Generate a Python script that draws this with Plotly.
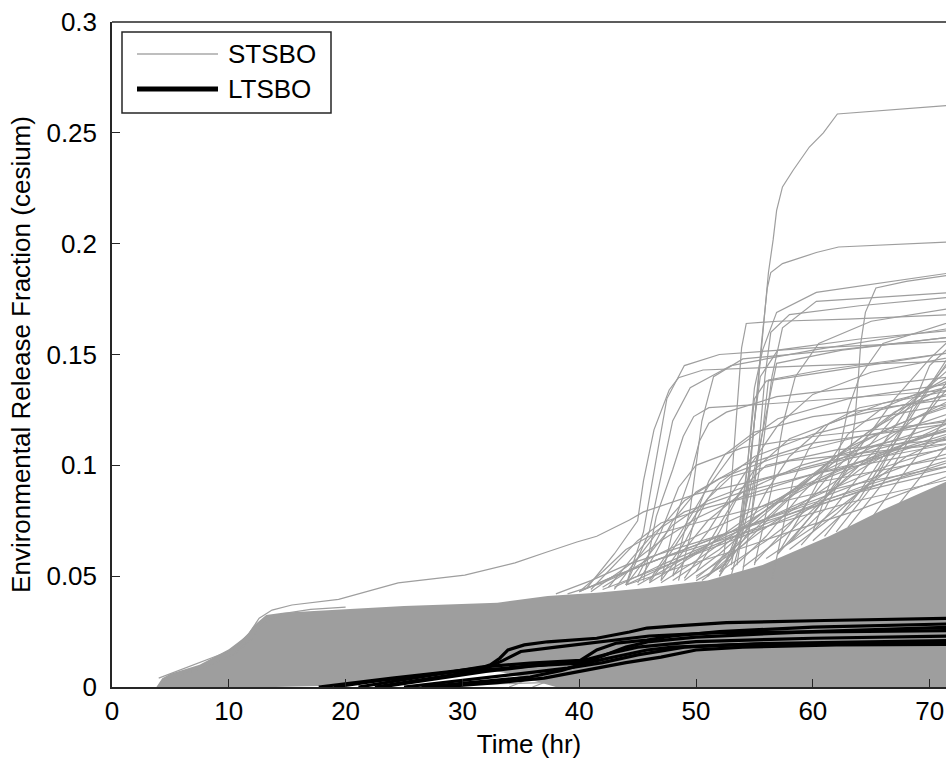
import plotly.graph_objects as go

# ---------------- data ----------------
X_TICKS = [0, 10, 20, 30, 40, 50, 60, 70]
Y_TICKS = [0, 0.05, 0.1, 0.15, 0.2, 0.25, 0.3]
Y_TICK_TEXT = ["0", "0.05", "0.1", "0.15", "0.2", "0.25", "0.3"]
SERIES_NAMES = ["STSBO", "LTSBO"]

# dense STSBO bundle envelope (upper edge, then lower edge)
BAND_UPPER_T = [3.8, 4.3, 5, 7.5, 10, 11.5, 12.2, 13.2, 14.6, 19.4, 25, 33, 37.3, 41.5, 45.8, 51, 55.7, 61.4, 66, 72]
BAND_UPPER_V = [0, 0.004, 0.006, 0.010, 0.017, 0.023, 0.028, 0.0325, 0.0335, 0.035, 0.0365, 0.038, 0.041, 0.0425, 0.0447, 0.048, 0.055, 0.068, 0.080, 0.094]
BAND_LOWER_T = [72, 38, 36, 34, 32, 29, 26, 22, 17.7, 14, 3.8]
BAND_LOWER_V = [0, 0, 0.003, 0.006, 0.008, 0.007, 0.005, 0.003, 0.0005, 0, 0]

# individual STSBO runs that stand out of the bundle: (hours, fraction)
STSBO_CURVES = [
    ([4, 7.5, 10.3, 11.7, 12.6, 13.7, 15.4, 19.4, 24.5, 30.2, 34.5, 37.3, 39.8, 41.5, 44.3, 45.5, 50, 55, 60, 66, 72],
     [0.004, 0.011, 0.0167, 0.024, 0.031, 0.0347, 0.037, 0.0395, 0.047, 0.0505, 0.056, 0.061, 0.0654, 0.068, 0.0753, 0.079, 0.087, 0.093, 0.10, 0.108, 0.116]),
    ([4.5, 8, 10.5, 12, 13, 14.5, 17, 20],
     [0.003, 0.009, 0.015, 0.022, 0.029, 0.033, 0.035, 0.036]),
    ([50, 52.5, 53.8, 54.6, 55.2, 55.7, 56.2, 56.6, 56.9, 57.4, 58.3, 59.7, 60.9, 62.1, 72],
     [0.048, 0.055, 0.07, 0.10, 0.13, 0.16, 0.187, 0.2017, 0.215, 0.2256, 0.233, 0.2436, 0.25, 0.2585, 0.2625]),
    ([50.5, 53, 54.2, 55, 55.6, 56.1, 56.4, 57.4, 60.3, 62.2, 72],
     [0.048, 0.058, 0.08, 0.12, 0.155, 0.18, 0.187, 0.191, 0.196, 0.1985, 0.2008]),
    ([51, 53.5, 54.4, 55, 55.7, 56.9, 60.3, 72],
     [0.05, 0.065, 0.10, 0.135, 0.152, 0.169, 0.178, 0.187]),
    ([52, 54.5, 55.5, 56.5, 57.4, 60.3, 72],
     [0.05, 0.07, 0.10, 0.14, 0.162, 0.174, 0.178]),
    ([51, 52.4, 53, 53.4, 53.9, 54.3, 57, 63, 72],
     [0.05, 0.06, 0.09, 0.12, 0.153, 0.164, 0.165, 0.166, 0.168]),
    ([58, 61, 63, 63.6, 63.9, 64.1, 64.5, 65.4, 68, 72],
     [0.065, 0.08, 0.10, 0.12, 0.14, 0.155, 0.169, 0.18, 0.183, 0.186]),
    ([40.7, 43, 45, 45.5, 46.4, 47.7, 48.5, 50.6, 60, 72],
     [0.045, 0.06, 0.075, 0.093, 0.116, 0.134, 0.1395, 0.143, 0.145, 0.147]),
    ([45.5, 46.6, 48, 48.9, 49.8, 51.1, 56.9, 72],
     [0.048, 0.077, 0.098, 0.113, 0.122, 0.126, 0.128, 0.134]),
    ([47, 48.3, 49.5, 50.3, 51.1, 52.6, 56.9, 72],
     [0.048, 0.077, 0.095, 0.111, 0.119, 0.124, 0.131, 0.14]),
    ([48.5, 50, 51.1, 52.5, 55, 60, 72],
     [0.048, 0.078, 0.093, 0.105, 0.115, 0.122, 0.13]),
    ([56.5, 57, 57.4, 58.3, 59.7, 61.4, 64, 72],
     [0.048, 0.06, 0.071, 0.093, 0.108, 0.119, 0.126, 0.134]),
    ([52, 54, 55.5, 56.9, 62.5, 72],
     [0.05, 0.075, 0.11, 0.146, 0.152, 0.158]),
    ([53, 54.5, 55.7, 56.2, 60.8, 72],
     [0.05, 0.08, 0.115, 0.1385, 0.143, 0.151]),
    ([44, 46, 47.2, 48, 49.5, 53, 60, 72],
     [0.046, 0.07, 0.10, 0.12, 0.135, 0.145, 0.152, 0.162]),
    ([55, 56.5, 57.5, 58.5, 60.5, 65, 72],
     [0.055, 0.09, 0.12, 0.14, 0.155, 0.165, 0.171]),
    ([60, 62, 63, 64, 66, 72],
     [0.07, 0.10, 0.125, 0.14, 0.155, 0.165]),
    ([44, 45.5, 46.5, 47.5, 49, 52, 60, 72],
     [0.046, 0.07, 0.10, 0.13, 0.145, 0.150, 0.153, 0.156]),
    ([48, 49.5, 50.5, 51.5, 54, 62, 72],
     [0.05, 0.08, 0.12, 0.14, 0.148, 0.152, 0.158]),
    ([53, 54, 54.6, 55, 56, 62, 72],
     [0.055, 0.08, 0.11, 0.13, 0.138, 0.143, 0.151]),
    ([53.5, 54.5, 55, 55.5, 57, 64, 72],
     [0.055, 0.09, 0.12, 0.14, 0.152, 0.157, 0.161]),
    ([54, 54.8, 55.4, 55.9, 56.4, 58, 64, 72],
     [0.052, 0.08, 0.11, 0.14, 0.16, 0.168, 0.172, 0.176]),
    ([42, 46, 50, 55, 60, 66, 72],
     [0.045, 0.058, 0.068, 0.080, 0.092, 0.104, 0.114]),
    ([44, 48, 52, 58, 64, 72],
     [0.046, 0.056, 0.065, 0.078, 0.090, 0.103]),
    ([46, 50, 54, 58, 63, 72],
     [0.047, 0.060, 0.075, 0.088, 0.100, 0.115]),
    ([48, 52, 56, 60, 65, 72],
     [0.048, 0.062, 0.080, 0.095, 0.108, 0.120]),
    ([50, 54, 58, 62, 67, 72],
     [0.049, 0.066, 0.086, 0.104, 0.118, 0.128]),
    ([52, 56, 60, 64, 68, 72],
     [0.052, 0.066, 0.082, 0.098, 0.110, 0.120]),
    ([54, 58, 62, 66, 69, 72],
     [0.054, 0.070, 0.090, 0.110, 0.122, 0.130]),
    ([56, 60, 64, 68, 72],
     [0.058, 0.072, 0.088, 0.104, 0.114]),
    ([58, 62, 66, 69, 72],
     [0.062, 0.078, 0.098, 0.118, 0.138]),
    ([60, 64, 67, 70, 72],
     [0.066, 0.085, 0.110, 0.135, 0.150]),
    ([62, 65, 68, 70, 72],
     [0.07, 0.09, 0.12, 0.145, 0.155]),
    ([45, 47, 48.5, 50, 54, 60, 72],
     [0.05, 0.07, 0.09, 0.10, 0.108, 0.113, 0.12]),
    ([47, 49, 51, 53, 58, 72],
     [0.05, 0.065, 0.085, 0.095, 0.102, 0.11]),
    ([50, 52, 54, 56, 62, 72],
     [0.052, 0.07, 0.09, 0.10, 0.107, 0.112]),
    ([38, 41, 44, 48, 53, 58, 64, 72],
     [0.042, 0.048, 0.055, 0.062, 0.070, 0.078, 0.088, 0.098]),
    ([40, 43, 47, 51, 56, 62, 68, 72],
     [0.043, 0.050, 0.058, 0.066, 0.076, 0.088, 0.100, 0.106]),
    ([42, 46, 50, 55, 60, 66, 72],
     [0.044, 0.052, 0.060, 0.070, 0.081, 0.092, 0.102]),
    ([43, 47, 51, 56, 61, 66, 72],
     [0.045, 0.055, 0.064, 0.076, 0.088, 0.099, 0.109]),
    ([45, 49, 53, 57, 62, 67, 72],
     [0.046, 0.058, 0.070, 0.083, 0.097, 0.108, 0.117]),
    ([47, 50, 54, 58, 62, 67, 72],
     [0.047, 0.057, 0.072, 0.088, 0.102, 0.115, 0.124]),
    ([49, 52, 55, 59, 63, 68, 72],
     [0.048, 0.060, 0.074, 0.092, 0.108, 0.120, 0.127]),
    ([51, 54, 57, 61, 65, 69, 72],
     [0.05, 0.064, 0.080, 0.100, 0.116, 0.128, 0.133]),
    ([53, 56, 59, 63, 67, 72],
     [0.053, 0.068, 0.087, 0.108, 0.124, 0.137]),
    ([55, 58, 61, 65, 69, 72],
     [0.056, 0.073, 0.093, 0.115, 0.132, 0.141]),
    ([57, 60, 63, 67, 72],
     [0.06, 0.078, 0.098, 0.122, 0.145]),
    ([59, 62, 65, 68, 72],
     [0.064, 0.082, 0.102, 0.125, 0.148]),
    ([61, 64, 67, 72],
     [0.068, 0.088, 0.112, 0.152]),
    ([63, 66, 69, 72],
     [0.072, 0.092, 0.118, 0.142]),
    ([65, 68, 72],
     [0.076, 0.098, 0.125]),
    ([67, 70, 72],
     [0.08, 0.10, 0.112]),
    ([41, 44, 47, 50, 54, 60, 66, 72],
     [0.043, 0.054, 0.066, 0.076, 0.086, 0.096, 0.104, 0.11]),
    ([43, 45, 47, 49, 52, 57, 64, 72],
     [0.044, 0.058, 0.072, 0.084, 0.094, 0.104, 0.113, 0.121]),
    ([46, 48, 50, 52, 55, 60, 66, 72],
     [0.047, 0.062, 0.078, 0.092, 0.104, 0.114, 0.122, 0.128]),
    ([49, 51, 53, 55, 58, 63, 72],
     [0.049, 0.064, 0.082, 0.098, 0.112, 0.122, 0.132]),
    ([52, 54, 56, 58, 61, 66, 72],
     [0.052, 0.068, 0.088, 0.104, 0.118, 0.128, 0.136]),
    ([57, 59, 61, 63, 66, 72],
     [0.06, 0.078, 0.098, 0.114, 0.126, 0.139]),
    ([40, 43, 47, 52, 57, 63, 72],
     [0.043, 0.05, 0.058, 0.066, 0.074, 0.083, 0.094]),
    ([44, 48, 53, 58, 64, 72],
     [0.046, 0.053, 0.061, 0.070, 0.080, 0.096]),
    ([58, 61, 64, 67, 70, 72],
     [0.065, 0.085, 0.108, 0.13, 0.148, 0.158]),
    ([48, 51, 54, 57, 60, 65, 72],
     [0.05, 0.07, 0.095, 0.118, 0.132, 0.142, 0.149]),
    ([46, 48.5, 51, 53.5, 57, 63, 72],
     [0.048, 0.068, 0.09, 0.108, 0.121, 0.13, 0.137]),
    ([40, 42, 44, 46, 50, 56, 64, 72],
     [0.043, 0.052, 0.062, 0.068, 0.074, 0.082, 0.092, 0.10]),
    ([41, 43, 45, 47, 51, 57, 65, 72],
     [0.044, 0.055, 0.066, 0.074, 0.081, 0.089, 0.097, 0.104]),
    ([42.5, 44.5, 46.5, 49, 54, 60, 72],
     [0.045, 0.058, 0.07, 0.079, 0.088, 0.096, 0.108]),
    ([44, 46, 48, 51, 56, 63, 72],
     [0.046, 0.06, 0.073, 0.084, 0.094, 0.103, 0.112]),
    ([45, 46.5, 48, 50, 54, 60, 72],
     [0.047, 0.06, 0.075, 0.088, 0.10, 0.11, 0.119]),
    ([47, 49, 51, 54, 59, 66, 72],
     [0.048, 0.062, 0.075, 0.088, 0.10, 0.11, 0.116]),
    ([39, 42, 45, 49, 54, 60, 66, 72],
     [0.042, 0.047, 0.054, 0.062, 0.072, 0.083, 0.092, 0.10]),
    ([50, 53, 56, 60, 64, 68, 72],
     [0.05, 0.06, 0.072, 0.086, 0.10, 0.11, 0.118]),
    ([26, 28, 30, 34, 37, 40],
     [0, 0.0008, 0.001, 0.0015, 0.002, 0.004]),
    ([34, 35, 36, 38, 40],
     [0, 0.002, 0.005, 0.007, 0.009]),
    ([36, 37.5, 39, 41],
     [0, 0.003, 0.006, 0.008]),
]

# LTSBO runs: (hours, fraction)
LTSBO_CURVES = [
    ([17.7, 20, 24, 28.8, 31.5, 32.4, 33.2, 33.9, 35.3, 37.3, 41.5, 44.3, 45.8, 48, 52.6, 61, 72],
     [0, 0.0015, 0.004, 0.0068, 0.0085, 0.010, 0.013, 0.0167, 0.019, 0.0204, 0.022, 0.0248, 0.0266, 0.0275, 0.029, 0.030, 0.031]),
    ([21.1, 24, 27.3, 31.6, 35.8, 40.1, 41.5, 43.2, 45.8, 48, 52, 60, 72],
     [0, 0.0025, 0.0054, 0.009, 0.0108, 0.012, 0.0167, 0.0198, 0.0212, 0.023, 0.025, 0.027, 0.0285]),
    ([22.5, 27.3, 31.6, 35.8, 40.1, 42, 44, 46, 50, 60, 72],
     [0, 0.004, 0.0075, 0.0095, 0.0108, 0.014, 0.018, 0.0205, 0.0225, 0.025, 0.027]),
    ([19, 23, 28, 32, 33.5, 35, 38, 42, 46, 52, 72],
     [0, 0.003, 0.006, 0.0085, 0.012, 0.016, 0.018, 0.0205, 0.023, 0.0245, 0.0255]),
    ([23, 28, 32, 36, 40, 42.5, 45, 50, 60, 72],
     [0, 0.004, 0.007, 0.0095, 0.0115, 0.015, 0.018, 0.0205, 0.022, 0.023]),
    ([25, 30, 35, 39, 42, 45, 49, 55, 72],
     [0, 0.003, 0.006, 0.0085, 0.011, 0.0145, 0.018, 0.0195, 0.021]),
    ([26.5, 30, 33, 35.8, 38.5, 40.7, 44.3, 45.8, 48, 53, 60, 72],
     [0, 0.0018, 0.003, 0.0045, 0.0075, 0.011, 0.015, 0.0167, 0.018, 0.019, 0.0195, 0.020]),
    ([28, 33, 37, 40, 44, 47, 50, 54, 62, 72],
     [0, 0.002, 0.004, 0.007, 0.011, 0.0135, 0.0167, 0.018, 0.019, 0.0192]),
]

GRAY = "#9e9e9e"
BLACK = "#000000"
AXIS = "#262626"
FONT = "Liberation Sans, Arial, sans-serif"
FS = 26
X_MAX = 71.4

fig = go.Figure()

# dense bundle
fig.add_trace(go.Scatter(
    x=BAND_UPPER_T + BAND_LOWER_T, y=BAND_UPPER_V + BAND_LOWER_V,
    mode="lines", fill="toself", fillcolor=GRAY, line=dict(width=0, color=GRAY),
    showlegend=False, hoverinfo="skip"))

for t, v in STSBO_CURVES:
    fig.add_trace(go.Scatter(
        x=t, y=v, mode="lines", line=dict(color=GRAY, width=1.2),
        name=SERIES_NAMES[0], showlegend=False))

for t, v in LTSBO_CURVES:
    fig.add_trace(go.Scatter(
        x=t, y=v, mode="lines", line=dict(color=BLACK, width=3.2),
        name=SERIES_NAMES[1], showlegend=False))

# legend box drawn in the MATLAB style (long line samples)
def px(xp):
    return (xp - 112) / 834.0

def py(yp):
    return (687 - yp) / 665.0

shapes = [
    dict(type="line", xref="paper", yref="paper", x0=0, x1=1, y0=1, y1=1,
         line=dict(color=AXIS, width=1.5)),
    dict(type="rect", xref="paper", yref="paper", x0=px(122), x1=px(331), y0=py(113), y1=py(32),
         line=dict(color=AXIS, width=1.5), fillcolor="white"),
    dict(type="line", xref="paper", yref="paper", x0=px(137), x1=px(218), y0=py(54), y1=py(54),
         line=dict(color="#a8a8a8", width=1.5)),
    dict(type="line", xref="paper", yref="paper", x0=px(137), x1=px(218), y0=py(89), y1=py(89),
         line=dict(color=BLACK, width=5)),
]
annotations = [
    dict(text=SERIES_NAMES[0], xref="paper", yref="paper", x=px(226), y=py(54),
         xanchor="left", yanchor="middle", showarrow=False, font=dict(family=FONT, size=FS)),
    dict(text=SERIES_NAMES[1], xref="paper", yref="paper", x=px(226), y=py(89),
         xanchor="left", yanchor="middle", showarrow=False, font=dict(family=FONT, size=FS)),
]

fig.update_layout(
    width=946, height=759,
    margin=dict(l=112, r=0, t=22, b=72),
    paper_bgcolor="white", plot_bgcolor="white",
    font=dict(family=FONT, size=FS, color="black"),
    showlegend=False,
    xaxis=dict(range=[0, X_MAX], tickvals=X_TICKS, ticks="inside", ticklen=8,
               tickcolor=AXIS, showline=True, linecolor=AXIS, linewidth=1.5,
               showgrid=False, zeroline=False,
               tickfont=dict(family=FONT, size=FS),
               title=dict(text="Time (hr)", font=dict(family=FONT, size=FS), standoff=10)),
    yaxis=dict(range=[0, 0.3], tickvals=Y_TICKS, ticktext=Y_TICK_TEXT,
               ticks="inside", ticklen=8, tickcolor=AXIS,
               showline=True, linecolor=AXIS, linewidth=1.5,
               showgrid=False, zeroline=False, ticklabelstandoff=8,
               tickfont=dict(family=FONT, size=FS),
               title=dict(text="Environmental Release Fraction (cesium)",
                          font=dict(family=FONT, size=FS), standoff=8)),
    shapes=shapes,
    annotations=annotations,
)

fig.write_html("out.html")
